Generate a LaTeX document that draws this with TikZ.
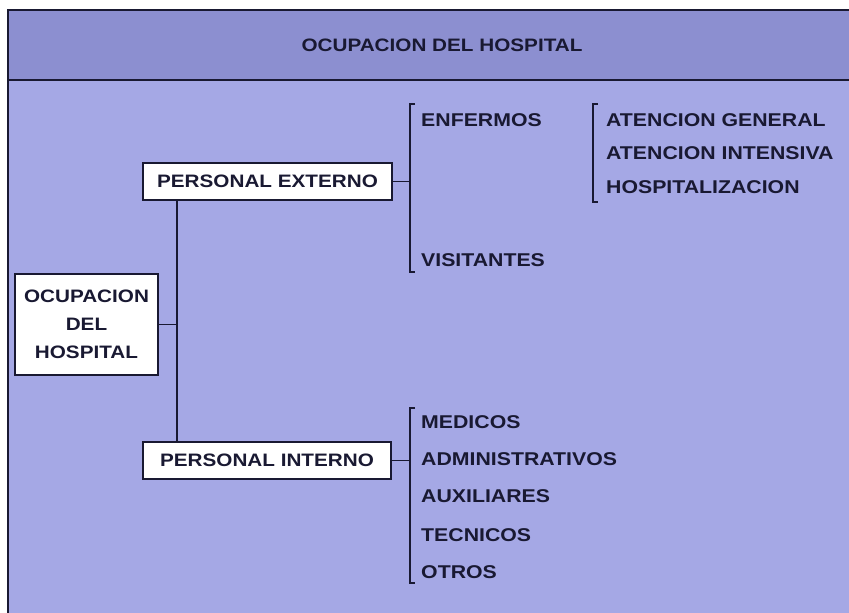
\documentclass[tikz,border=0pt]{standalone}
\usepackage{fontspec}
\setmainfont{Liberation Sans}[FakeStretch=1.15]
\usetikzlibrary{positioning}
\definecolor{band}{RGB}{140,143,208}
\definecolor{panel}{RGB}{165,168,229}
\definecolor{ink}{RGB}{25,25,50}

\begin{document}
\begin{tikzpicture}[x=1pt,y=-1pt]
            \tikzstyle{box}=[rectangle,draw=ink,line width=1.4pt,fill=white,inner sep=0pt,text=ink,font=\fontsize{18}{28}\selectfont\bfseries]
            \tikzstyle{item}=[anchor=west,inner sep=0pt,text=ink,font=\fontsize{18.5}{22}\selectfont\bfseries]
            \tikzstyle{brace}=[draw=ink,line width=1.1pt]

            \tikzstyle{every edge}=[draw=ink,line width=1.4pt]

            % panel and title band
            \useasboundingbox (0,0) rectangle (849,613);
            \fill[white] (0,0) rectangle (849,613);
            \fill[panel] (8,10) rectangle (849,613);
            \fill[band] (8,10) rectangle (849,80);
            \draw[ink,line width=1.6pt] (849,10) -- (8,10) -- (8,613);
            \draw[ink,line width=1.6pt] (8,80) -- (849,80);

            \node[text=ink,font=\fontsize{18}{22}\selectfont\bfseries] (title) at (442,45) {OCUPACION DEL HOSPITAL};

            \node[box,minimum width=143pt,minimum height=101pt,align=center] (oh) at (86.5,324.5) {OCUPACION\\DEL\\HOSPITAL};
            \node[box,minimum width=249pt,minimum height=37pt] (pe) at (267.5,181.5) {PERSONAL EXTERNO};
            \node[box,minimum width=248pt,minimum height=37pt] (pi) at (267,460.5) {PERSONAL INTERNO};

            % trunk and bracket corners
            \coordinate (t1) at (177,200);
            \coordinate (t2) at (177,442);
            \coordinate (b1) at (410,104);
            \coordinate (b1e) at (410,272);
            \coordinate (b2) at (593,104);
            \coordinate (b2e) at (593,202);
            \coordinate (b3) at (410,408);
            \coordinate (b3e) at (410,583);

            \path (t1) edge (t2);
            \path (oh.east) edge (oh.east -| t1);
            \path (pe.east) edge (pe.east -| b1);
            \path (pi.east) edge (pi.east -| b3);

            \draw[brace] ([xshift=5pt]b1) -- (b1) -- (b1e) -- ([xshift=5pt]b1e);
            \draw[brace] ([xshift=5pt]b2) -- (b2) -- (b2e) -- ([xshift=5pt]b2e);
            \draw[brace] ([xshift=5pt]b3) -- (b3) -- (b3e) -- ([xshift=5pt]b3e);

            \node[item] (enf) at (421,120) {ENFERMOS};
            \node[item] (vis) at (421,260) {VISITANTES};

            \node[item] (gen) at (606,120) {ATENCION GENERAL};
            \node[item] (int) at (606,153) {ATENCION INTENSIVA};
            \node[item] (hos) at (606,187) {HOSPITALIZACION};

            \node[item] (med) at (421,422) {MEDICOS};
            \node[item] (adm) at (421,459) {ADMINISTRATIVOS};
            \node[item] (aux) at (421,496) {AUXILIARES};
            \node[item] (tec) at (421,535) {TECNICOS};
            \node[item] (otr) at (421,572) {OTROS};
        \end{tikzpicture}
\end{document}
